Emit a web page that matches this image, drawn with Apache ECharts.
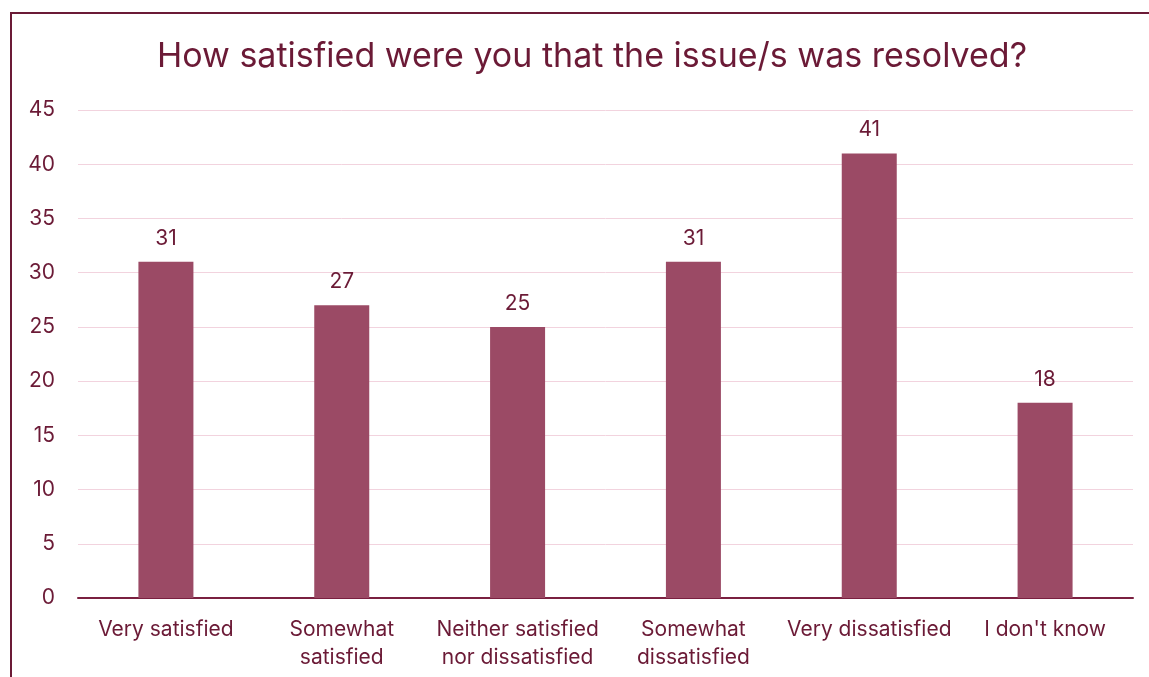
<!DOCTYPE html>
<html>
<head>
    <meta charset="utf-8">
    <title>How satisfied were you that the issue/s was resolved?</title>
    <script src="https://cdn.jsdelivr.net/npm/echarts@6/dist/echarts.min.js"></script>
    <style>
        html, body { margin: 0; padding: 0; background: #fff; }
        #chart { width: 1149px; height: 677px; }
    </style>
</head>
<body>
<div id="chart"></div>
<script>
    // 数据
    var categories = ['Very satisfied', 'Somewhat\nsatisfied', 'Neither satisfied\nnor dissatisfied',
        'Somewhat\ndissatisfied', 'Very dissatisfied', "I don't know"];
    var responses = [31, 27, 25, 31, 41, 18];

    var textColor = '#6b1a36';
    var myChart = echarts.init(document.getElementById('chart'));
    myChart.setOption({
        animation: false,
        textStyle: { fontFamily: 'Inter, "Noto Sans", sans-serif' },
        title: {
            text: 'How satisfied were you that the issue/s was resolved?',
            left: 587,
            top: 35,
            textAlign: 'center',
            textStyle: { color: textColor, fontSize: 34, fontWeight: 'normal', fontFamily: 'Inter, "Noto Sans", sans-serif' }
        },
        // 外框
        graphic: [{
            type: 'rect',
            shape: { x: 11, y: 13, width: 1300, height: 800 },
            style: { fill: 'none', stroke: textColor, lineWidth: 2 },
            silent: true
        }],
        grid: { left: 78, right: 16, top: 110, bottom: 79, containLabel: false },
        xAxis: {
            type: 'category',
            data: categories,
            axisTick: { show: false },
            axisLine: { lineStyle: { color: '#7a2040', width: 2 } },
            axisLabel: { color: textColor, fontSize: 21, lineHeight: 28, margin: 18, interval: 0 }
        },
        yAxis: {
            type: 'value',
            min: 0, max: 45, interval: 5,
            axisLine: { show: false },
            axisTick: { show: false },
            axisLabel: { color: textColor, fontSize: 21, margin: 23 },
            splitLine: { lineStyle: { color: '#f2d3de', width: 1 } }
        },
        series: [{
            type: 'bar',
            data: responses,
            barWidth: 55,
            itemStyle: { color: '#9b4a65' },
            label: { show: true, position: 'top', distance: 13, color: textColor, fontSize: 21 }
        }]
    });
</script>
</body>
</html>
